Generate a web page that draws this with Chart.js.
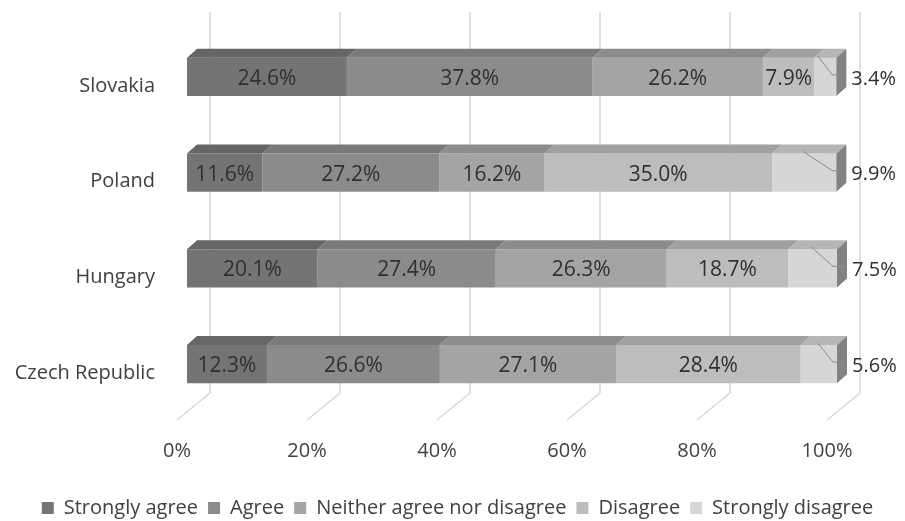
<!DOCTYPE html>
<html lang="en">
<head>
  <meta charset="UTF-8">
  <title>Agreement by country</title>
  <style>
    html, body {
      margin: 0;
      padding: 0;
      background: #fff;
    }

    #wrap {
      width: 905px;
      height: 521px;
    }
  </style>
</head>
<body>
  <div id="wrap"><canvas id="barChart"></canvas></div>

  <script src="https://cdn.jsdelivr.net/npm/chart.js"></script>
  <script>
    const countries = ['Slovakia', 'Poland', 'Hungary', 'Czech Republic'];
    const answers = ['Strongly agree', 'Agree', 'Neither agree nor disagree', 'Disagree', 'Strongly disagree'];
    const stronglyAgree = [24.6, 11.6, 20.1, 12.3];
    const agree = [37.8, 27.2, 27.4, 26.6];
    const neither = [26.2, 16.2, 26.3, 27.1];
    const disagree = [7.9, 35.0, 18.7, 28.4];
    const stronglyDisagree = [3.4, 9.9, 7.5, 5.6];
    const percentTicks = [0, 20, 40, 60, 80, 100];

    const frontColors = ['#747474', '#8b8b8b', '#a4a4a4', '#bdbdbd', '#d6d6d6'];
    const topColors = ['#666666', '#7a7a7a', '#8c8c8c', '#a0a0a0', '#b5b5b5'];
    const sideColor = '#828282';

    // depth of the bar blocks (top face slant)
    const DX = 10;
    const DY = 9;

    Chart.defaults.font.family = "'Open Sans', sans-serif";
    Chart.defaults.font.size = 20;
    Chart.defaults.color = '#404040';

    // back wall + floor gridlines, then the 3d faces and value labels
    const bars3d = {
      id: 'bars3d',
      beforeDatasetsDraw(chart) {
        const {ctx, chartArea: a, scales: {x}} = chart;
        ctx.save();
        ctx.strokeStyle = '#d6d6d6';
        ctx.lineWidth = 1.5;
        percentTicks.forEach(v => {
          const px = x.getPixelForValue(v);
          ctx.beginPath();
          ctx.moveTo(px + 23, a.top - 17);
          ctx.lineTo(px + 23, a.bottom - 19);
          ctx.lineTo(px - 10, a.bottom + 8);
          ctx.stroke();
        });
        ctx.restore();
      },
      afterDatasetsDraw(chart) {
        const {ctx} = chart;
        const last = chart.data.datasets.length - 1;
        ctx.save();

        chart.data.datasets.forEach((ds, di) => {
          chart.getDatasetMeta(di).data.forEach(bar => {
            const {x, y, base, height} = bar.getProps(['x', 'y', 'base', 'height'], true);
            const top = y - height / 2;
            const bottom = y + height / 2;

            ctx.fillStyle = topColors[di];
            ctx.beginPath();
            ctx.moveTo(base, top);
            ctx.lineTo(x, top);
            ctx.lineTo(x + DX, top - DY);
            ctx.lineTo(base + DX, top - DY);
            ctx.closePath();
            ctx.fill();

            if (di === last) {
              ctx.fillStyle = sideColor;
              ctx.beginPath();
              ctx.moveTo(x, top);
              ctx.lineTo(x + DX, top - DY);
              ctx.lineTo(x + DX, bottom - DY);
              ctx.lineTo(x, bottom);
              ctx.closePath();
              ctx.fill();
            }
          });
        });

        ctx.textBaseline = 'middle';
        chart.data.datasets.forEach((ds, di) => {
          chart.getDatasetMeta(di).data.forEach((bar, i) => {
            const {x, y, base, height} = bar.getProps(['x', 'y', 'base', 'height'], true);
            const text = ds.data[i].toFixed(1) + '%';
            ctx.fillStyle = '#303030';
            if (di === last) {
              // thin end segment: label sits outside, joined by a leader line
              const top = y - height / 2;
              const start = Math.min((x + base) / 2 - 1, x - 19);
              ctx.strokeStyle = '#8c8c8c';
              ctx.lineWidth = 1;
              ctx.beginPath();
              ctx.moveTo(start, top - 2);
              ctx.lineTo(x - 4, y - 2);
              ctx.lineTo(x + 8, y - 2);
              ctx.stroke();
              ctx.font = "20px 'Open Sans', sans-serif";
              ctx.textAlign = 'left';
              ctx.fillText(text, x + 15, y + 2);
            } else {
              ctx.font = "21px 'Open Sans', sans-serif";
              ctx.textAlign = 'center';
              ctx.fillText(text, (x + base) / 2, y + 2);
            }
          });
        });
        ctx.restore();
      }
    };

    const series = [stronglyAgree, agree, neither, disagree, stronglyDisagree];

    new Chart(document.getElementById('barChart'), {
      type: 'bar',
      data: {
        labels: countries,
        datasets: series.map((values, i) => ({
          label: answers[i],
          data: values,
          yAxisID: 'y',
          backgroundColor: frontColors[i],
          borderWidth: 0,
          barPercentage: 1,
          categoryPercentage: 0.4
        }))
      },
      options: {
        indexAxis: 'y',
        responsive: true,
        maintainAspectRatio: false,
        animation: false,
        layout: {
          padding: {top: 29, left: 10, right: 0, bottom: 0}
        },
        plugins: {
          tooltip: {enabled: false},
          legend: {
            position: 'bottom',
            maxHeight: 33,
            labels: {
              boxWidth: 12,
              boxHeight: 12,
              padding: 10,
              color: '#404040',
              font: {size: 20}
            }
          }
        },
        scales: {
          y: {
            stacked: true,
            grid: {display: false, drawTicks: false},
            border: {display: false},
            ticks: {padding: 32, labelOffset: 9, color: '#404040'},
            afterFit(s) {
              s.width = 177;
              s.paddingTop = 0;
              s.paddingBottom = 0;
            }
          },
          yRight: {
            type: 'category',
            position: 'right',
            grid: {display: false, drawTicks: false},
            border: {display: false},
            ticks: {display: false},
            afterFit(s) {
              s.width = 68;
              s.paddingTop = 0;
              s.paddingBottom = 0;
            }
          },
          x: {
            stacked: true,
            min: 0,
            max: 100,
            grid: {display: false, drawTicks: false},
            border: {display: false},
            ticks: {
              padding: 27,
              labelOffset: -10,
              color: '#404040',
              callback: v => v + '%'
            },
            afterBuildTicks(s) { s.ticks = percentTicks.map(v => ({value: v})); },
            afterFit(s) {
              s.height = 76;
              s.paddingLeft = 0;
              s.paddingRight = 0;
            }
          }
        }
      },
      plugins: [bars3d]
    });
  </script>
</body>
</html>
